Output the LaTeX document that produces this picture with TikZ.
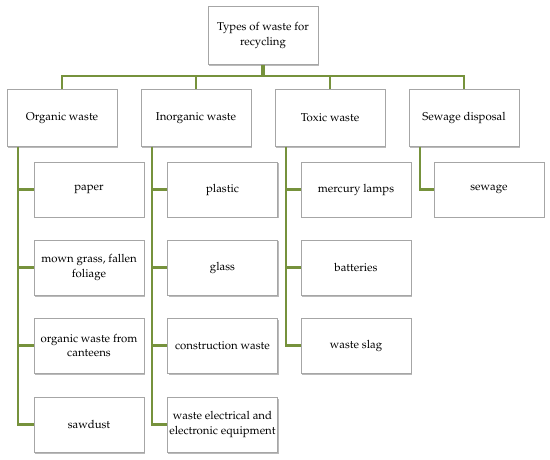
\documentclass[tikz,border=0pt]{standalone}
\usepackage[T1]{fontenc}
\usepackage{mathpazo}
\usetikzlibrary{shadows}
\definecolor{olivegr}{HTML}{76923C}
\begin{document}
\begin{tikzpicture}[x=1pt,y=-1pt,
  box/.style={draw=black!35, fill=white, line width=0.6pt, minimum width=110pt, minimum height=55pt,
    align=center, inner sep=2pt, font=\fontsize{11.4}{14.5}\selectfont,
    drop shadow={shadow xshift=1pt, shadow yshift=-1.5pt, fill=black!60, opacity=0.45}},
  conn/.style={draw=olivegr, line width=2.3pt},
  stem/.style={draw=olivegr, line width=3.2pt}]
\useasboundingbox (0,0) rectangle (550,460);
% top
\node[box, minimum height=58pt] (top) at (263,35.5) {Types of waste for\\recycling};
% level 1
\node[box, minimum height=57pt] (org) at (62,118) {Organic waste};
\node[box, minimum height=57pt] (inorg) at (196,118) {Inorganic waste};
\node[box, minimum height=57pt] (tox) at (330,118) {Toxic waste};
\node[box, minimum height=57pt] (sew) at (464,118) {Sewage disposal};
% children organic
\node[box] (o1) at (89,189.5) {paper};
\node[box] (o2) at (89,267.5) {mown grass, fallen\\foliage};
\node[box] (o3) at (89,345.5) {organic waste from\\canteens};
\node[box] (o4) at (89,424.5) {sawdust};
% children inorganic
\node[box] (i1) at (222.5,189.5) {plastic};
\node[box] (i2) at (222.5,267.5) {glass};
\node[box] (i3) at (222.5,345.5) {construction waste};
\node[box] (i4) at (222.5,424.5) {waste electrical and\\electronic equipment};
% children toxic
\node[box] (t1) at (356,189.5) {mercury lamps};
\node[box] (t2) at (356,267.5) {batteries};
\node[box] (t3) at (356,345.5) {waste slag};
% children sewage
\node[box] (s1) at (489,189.5) {sewage};
% bus
\coordinate (bus) at (263,76);
\draw[stem] (top.south) -- (top.south |- bus);
\draw[conn] (org.north) |- (bus) -| (sew.north);
\draw[conn] (inorg.north) -- (inorg.north |- bus);
\draw[conn] (tox.north) -- (tox.north |- bus);
% child connectors
\coordinate (ol) at ([xshift=11pt]org.south west);
\coordinate (il) at ([xshift=11pt]inorg.south west);
\coordinate (tl) at ([xshift=11pt]tox.south west);
\coordinate (sl) at ([xshift=11pt]sew.south west);
\foreach \c in {o1,o2,o3,o4} \draw[conn] (ol) |- (\c.west);
\foreach \c in {i1,i2,i3,i4} \draw[conn] (il) |- (\c.west);
\foreach \c in {t1,t2,t3} \draw[conn] (tl) |- (\c.west);
\draw[conn] (sl) |- (s1.west);
\end{tikzpicture}
\end{document}
